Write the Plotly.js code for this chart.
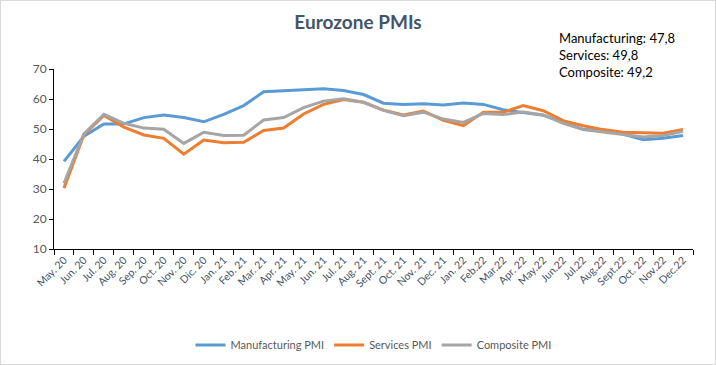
<!DOCTYPE html>
<html>
<head>
<meta charset="utf-8">
<script src="https://cdn.plot.ly/plotly-3.0.1.min.js"></script>
<style>
html,body{margin:0;padding:0;background:#fff;}
#chart{width:716px;height:365px;box-sizing:border-box;border:1px solid #d9d9d9;}
</style>
</head>
<body>
<div id="chart"></div>
<script>
const months = ["May. 20","Jun. 20","Jul. 20","Aug. 20","Sep. 20","Oct. 20","Nov. 20","Dic. 20","Jan. 21","Feb. 21","Mar. 21","Apr. 21","May. 21","Jun. 21","Jul. 21","Aug. 21","Sept. 21","Oct. 21","Nov. 21","Dec. 21","Jan. 22","Feb.22","Mar.22","Apr. 22","May.22","Jun.22","Jul.22","Aug.22","Sept.22","Oct. 22","Nov.22","Dec.22"];
const manufacturing = [39.2,47.6,51.7,51.7,53.8,54.7,53.8,52.4,54.9,57.8,62.4,62.8,63.0,63.4,62.8,61.5,58.6,58.2,58.4,58.0,58.7,58.2,56.4,55.5,54.6,52.2,49.9,49.3,48.3,46.4,46.9,47.8];
const services = [30.3,48.1,54.5,50.6,48.0,46.9,41.6,46.3,45.4,45.6,49.5,50.3,55.0,58.2,59.8,58.9,56.3,54.7,56.0,52.9,51.1,55.6,55.6,57.8,56.1,52.8,51.1,49.8,48.9,48.7,48.6,49.8];
const composite = [31.9,48.4,54.9,51.9,50.3,49.9,45.2,48.9,47.8,47.9,53.0,53.8,57.1,59.3,60.1,58.9,56.2,54.4,55.6,53.3,52.2,55.2,54.8,55.7,54.7,51.9,49.8,49.0,48.2,47.3,47.8,49.2];
const annotationLines = ["Manufacturing: 47,8","Services: 49,8","Composite: 49,2"];

const FONT = "Lato, 'Open Sans', sans-serif";
function tr(name, y, color){
  return {x: months, y: y, name: name, type: 'scatter', mode: 'lines',
    line: {color: color, width: 3}};
}
const data = [
  tr("Manufacturing PMI", manufacturing, "#5B9BD5"),
  tr("Services PMI", services, "#ED7D31"),
  tr("Composite PMI", composite, "#A5A5A5")
];
const layout = {
  width: 714, height: 363,
  margin: {l: 53, r: 22, t: 68, b: 115},
  paper_bgcolor: '#fff', plot_bgcolor: '#fff',
  font: {family: FONT, color: '#595959', size: 12},
  title: {text: "<b>Eurozone PMIs</b>", x: 0.5, xanchor: 'center', y: 0.94, yanchor: 'middle',
    font: {family: FONT, size: 19, color: '#44546A'}},
  showlegend: true,
  legend: {orientation: 'h', x: 0.5, xanchor: 'center', yref: 'container', y: 0.092, yanchor: 'top',
    font: {family: FONT, size: 11, color: '#595959'}, itemwidth: 30, tracegroupgap: 0},
  xaxis: {type: 'category', automargin: false, showgrid: false, zeroline: false, showline: true, linecolor: '#000', linewidth: 1,
    ticks: 'outside', tickson: 'boundaries', ticklen: 5, tickcolor: '#000', tickangle: -45,
    tickfont: {family: FONT, size: 10.5, color: '#44546A'}, range: [-0.5, 31.5]},
  yaxis: {range: [10, 70], dtick: 10, automargin: false, showgrid: false, zeroline: false, showline: true, linecolor: '#000',
    linewidth: 1, ticks: 'outside', ticklen: 4, tickcolor: '#000',
    tickfont: {family: FONT, size: 12, color: '#595959'}},
  annotations: [{
    xref: 'paper', yref: 'paper', x: 0.787, y: 1.225, xanchor: 'left', yanchor: 'top',
    align: 'left', showarrow: false, text: annotationLines.join('<br>'),
    font: {family: FONT, size: 13, color: '#000'}
  }]
};
Plotly.newPlot('chart', data, layout, {displayModeBar: false, staticPlot: true});
</script>
</body>
</html>
